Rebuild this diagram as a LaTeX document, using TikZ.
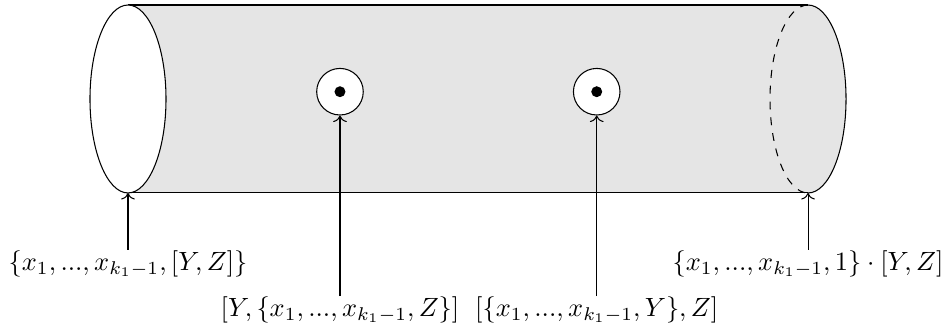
\documentclass[tikz,border=0pt]{standalone}
\usepackage{amsmath}
\usetikzlibrary{arrows.meta,positioning}

\begin{document}
\begin{tikzpicture}[
        hole/.style={circle, draw, fill=white, minimum size=0.62cm, inner sep=0pt},
        lbl/.style={inner sep=0pt, anchor=north},
        >=To
      ]
        \useasboundingbox (-1.704,-3.089) rectangle (10.890,1.318);

        % Tube body
        \fill[gray!20] (0,1.251) -- (9.053,1.251)
          arc[start angle=90, end angle=-90, x radius=0.506, y radius=1.251]
          -- (0,-1.251) -- cycle;
        \draw (0,1.251) -- (9.053,1.251);
        \draw (0,-1.251) -- (9.053,-1.251);
        \draw (9.053,1.251) arc[start angle=90, end angle=-90, x radius=0.506, y radius=1.251];
        \draw[dashed] (9.053,1.251) arc[start angle=90, end angle=270, x radius=0.506, y radius=1.251];
        \draw[fill=white] (0,0) ellipse [x radius=0.506, y radius=1.251];
        \coordinate (endL) at (0,-1.251);
        \coordinate (endR) at (9.053,-1.251);

        % Punctures
        \node[hole] (h1) at (2.822,0.097) {};
        \node[hole] (h2) at (6.240,0.097) {};
        \fill (h1) circle (0.073);
        \fill (h2) circle (0.073);

        % Labels
        \node[lbl] (lblL) at (0,-2.010) {$\{x_1,...,x_{k_1-1},[Y,Z]\}$};
        \node[lbl] (lblR) at (9.053,-2.010) {$\{x_1,...,x_{k_1-1},1\}\cdot[Y,Z]$};
        \node[lbl] (lbl1) at (2.822,-2.623) {$[Y,\{x_1,...,x_{k_1-1},Z\}]$};
        \node[lbl] (lbl2) at (6.240,-2.623) {$[\{x_1,...,x_{k_1-1},Y\},Z]$};

        \draw[->] (lblL.north) -- (endL);
        \draw[->] (lblR.north) -- (endR);
        \draw[->] (lbl1.north) -- (h1.south);
        \draw[->] (lbl2.north) -- (h2.south);
      \end{tikzpicture}
\end{document}
